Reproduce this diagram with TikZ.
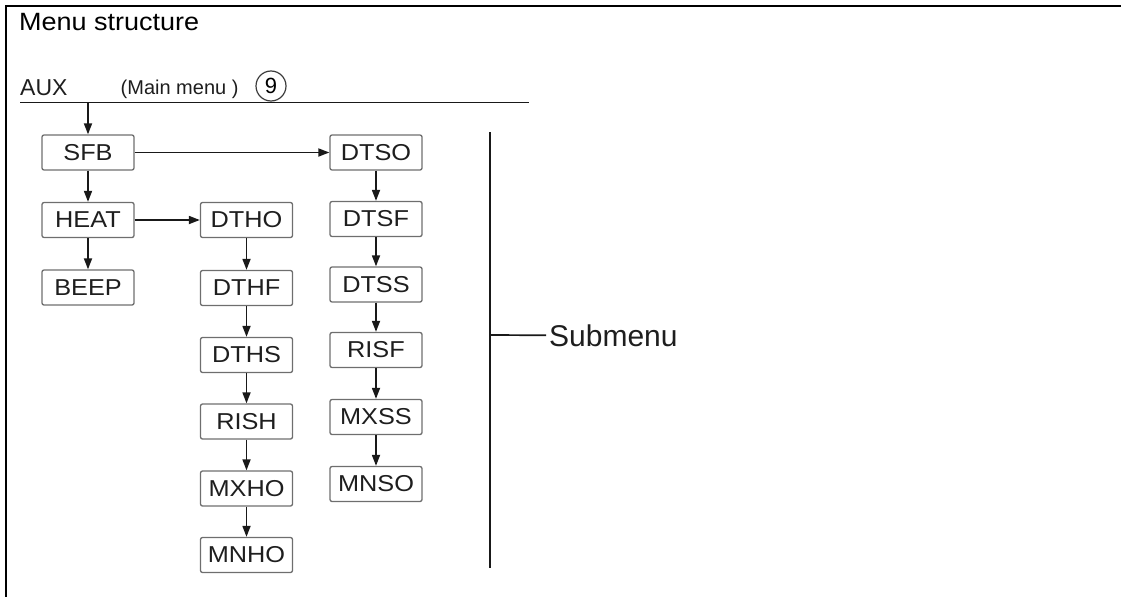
\documentclass[tikz,border=0pt]{standalone}
\usepackage{fontspec}
\usepackage{tikz}
\usetikzlibrary{arrows.meta}
\setmainfont{Liberation Sans}
\newfontfamily\boxfont[FakeStretch=1.1]{Liberation Sans}
\newfontfamily\titlefont[FakeStretch=1.08]{Liberation Sans}

\begin{document}
\begin{tikzpicture}[x=1pt, y=-1pt]
% Styles
\tikzstyle{none} = []
\tikzstyle{caption}=[inner sep=0pt, anchor=base west, text={rgb,255: red,30; green,30; blue,30}]
\tikzstyle{menubox}=[draw={rgb,255: red,110; green,110; blue,110}, line width=1.3pt, rounded corners=2pt, minimum width=92pt, minimum height=35pt, inner sep=0pt, text={rgb,255: red,30; green,30; blue,30}, font=\boxfont\fontsize{23}{23}\selectfont]
\tikzstyle{number}=[draw={rgb,255: red,60; green,60; blue,60}, shape=circle, line width=1.2pt, minimum size=30pt, inner sep=0pt, font=\fontsize{22}{22}\selectfont]
\tikzstyle{arrow}=[draw={rgb,255: red,25; green,25; blue,25}, line width=1.7pt, -{Triangle[length=11pt, width=8pt]}]
\tikzstyle{blackline}=[-, draw={rgb,255: red,25; green,25; blue,25}, line width=1.7pt]
\tikzstyle{frame}=[-, draw=black, line width=2pt]

\useasboundingbox (0, 0) rectangle (1121, 597);

\node [style=none] (1) at (1121, 6) {};
\node [style=none] (2) at (6, 6) {};
\node [style=none] (3) at (6, 597) {};
\node [style=caption, font=\titlefont\fontsize{25}{25}\selectfont, text=black] (4) at (19, 30) {Menu structure};
\node [style=caption, font=\fontsize{23}{23}\selectfont] (5) at (20, 95) {AUX};
\node [style=caption, font=\fontsize{20}{20}\selectfont] (6) at (120.5, 94.5) {(Main menu )};
\node [style=number] (7) at (271, 86) {9};
\node [style=none] (8) at (20, 102.5) {};
\node [style=none] (9) at (529, 102.5) {};
\node [style=none] (10) at (88, 102.5) {};
\node [style=menubox] (11) at (88, 152.5) {SFB};
\node [style=menubox] (12) at (88, 220) {HEAT};
\node [style=menubox] (13) at (88, 287.5) {BEEP};
\node [style=menubox] (14) at (246.5, 220) {DTHO};
\node [style=menubox] (15) at (246.5, 288) {DTHF};
\node [style=menubox] (16) at (246.5, 355) {DTHS};
\node [style=menubox] (17) at (246.5, 421.5) {RISH};
\node [style=menubox] (18) at (246.5, 488.5) {MXHO};
\node [style=menubox] (19) at (246.5, 555) {MNHO};
\node [style=menubox] (20) at (376, 152.5) {DTSO};
\node [style=menubox] (21) at (376, 219) {DTSF};
\node [style=menubox] (22) at (376, 284.5) {DTSS};
\node [style=menubox] (23) at (376, 350) {RISF};
\node [style=menubox] (24) at (376, 417) {MXSS};
\node [style=menubox] (25) at (376, 484) {MNSO};
\node [style=none] (26) at (490, 132) {};
\node [style=none] (27) at (490, 568) {};
\node [style=none] (28) at (490, 335) {};
\node [style=caption, inner xsep=3pt, font=\fontsize{30}{30}\selectfont] (29) at (546, 346) {Submenu};

\draw [style=frame] (1.center) to (2.center) to (3.center);
\draw [style=blackline] (8.center) to (9.center);
\draw [style=arrow] (10.center) to (11);
\draw [style=arrow] (11) to (12);
\draw [style=arrow] (12) to (13);
\draw [style=arrow] (11) to (20);
\draw [style=arrow] (12) to (14);
\draw [style=arrow] (14) to (15);
\draw [style=arrow] (15) to (16);
\draw [style=arrow] (16) to (17);
\draw [style=arrow] (17) to (18);
\draw [style=arrow] (18) to (19);
\draw [style=arrow] (20) to (21);
\draw [style=arrow] (21) to (22);
\draw [style=arrow] (22) to (23);
\draw [style=arrow] (23) to (24);
\draw [style=arrow] (24) to (25);
\draw [style=blackline] (26.center) to (27.center);
\draw [style=blackline] (28.center) to (29.west);
\end{tikzpicture}
\end{document}
